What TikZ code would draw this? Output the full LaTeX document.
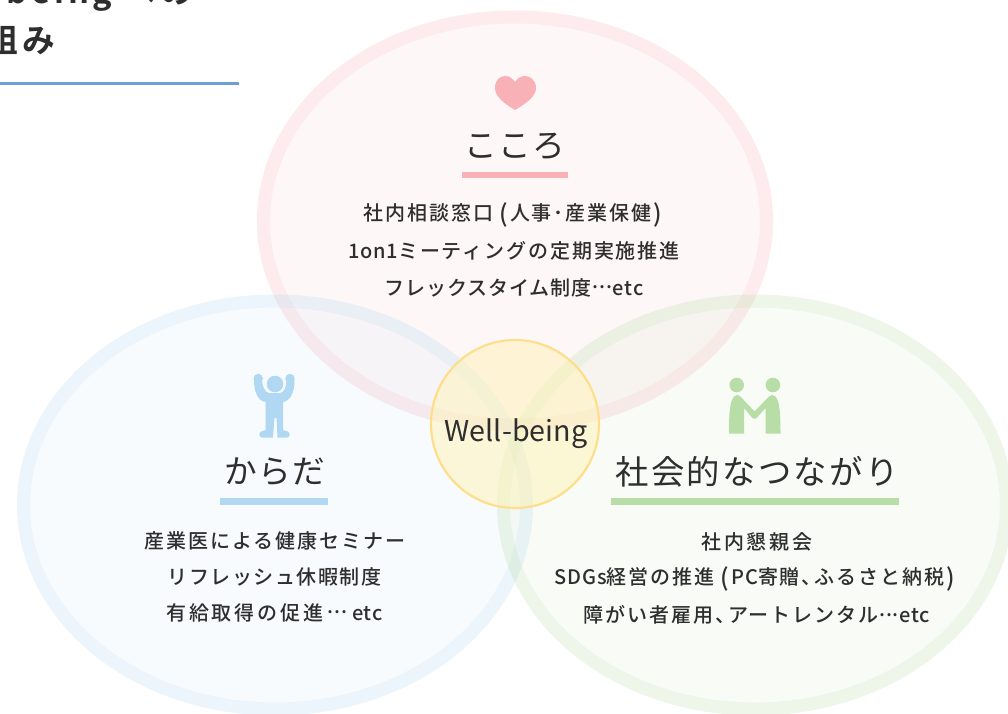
\documentclass[tikz,border=0pt]{standalone}
\usepackage{fontspec}
\setmainfont{Noto Sans CJK JP}
\newfontfamily\bodyf[LetterSpace=9.5]{Noto Sans CJK JP Medium}
\newfontfamily\bodyw[LetterSpace=14]{Noto Sans CJK JP Medium}
\newfontfamily\bodyn[LetterSpace=7.5]{Noto Sans CJK JP Medium}
\newfontfamily\bodyt[LetterSpace=4.5]{Noto Sans CJK JP Medium}
\newfontfamily\latf[LetterSpace=4]{Noto Sans CJK JP Medium}
\newfontfamily\headf[LetterSpace=5]{Noto Sans CJK JP}
\newfontfamily\headw[LetterSpace=7]{Noto Sans CJK JP}
\newfontfamily\wbf{Noto Sans CJK JP}
\newfontfamily\titlef[LetterSpace=12]{Noto Sans CJK JP Bold}
\newcommand{\lp}{\kern.3em\raisebox{-.08em}{\fontsize{18}{18}\selectfont(}\kern.12em}
\newcommand{\rp}{\kern.12em\raisebox{-.08em}{\fontsize{18}{18}\selectfont)}}
\newcommand{\cm}{、\kern-.35em}
\newcommand{\el}{\raisebox{.33em}{\latf\makebox[1.05em]{...}}}
\newcommand{\lat}[1]{{\latf #1}}
\definecolor{ink}{HTML}{2E2E2E}
\definecolor{pinkc}{HTML}{F9B1B8}
\definecolor{bluec}{HTML}{B0D8F2}
\definecolor{greenc}{HTML}{B8DDA6}
\definecolor{yellowc}{HTML}{FFF3B4}
\definecolor{yellowl}{HTML}{FFDE8A}
\definecolor{rulec}{HTML}{6C9FD8}
\tikzset{
  x=0.75pt,y=-0.75pt,
  ringedge/.style={line width=9.75pt,draw opacity=0.25},
  ringfill/.style={fill opacity=0.09},
  bodytext/.style={font=\bodyf\fontsize{15}{15}\selectfont,text=ink,inner sep=0,anchor=center},
  headtext/.style={font=\headf\fontsize{24.5}{24.5}\selectfont,text=ink,inner sep=0,anchor=center},
  titletext/.style={font=\titlef\fontsize{24.5}{24.5}\selectfont,text=ink,inner sep=0},
  bar/.style={inner sep=0,minimum height=4.9pt},
}
\begin{document}
\begin{tikzpicture}
\useasboundingbox (0,0) rectangle (1008,714);
\clip (0,0) rectangle (1008,714);
\fill[white] (0,0) rectangle (1008,714);
% rings
\fill[ringfill,pinkc] (515,221) ellipse [x radius=245,y radius=197.5];
\draw[ringedge,draw=pinkc] (515,221) ellipse [x radius=251.5,y radius=204];
\fill[ringfill,bluec] (275,505) ellipse [x radius=245,y radius=197.5];
\draw[ringedge,draw=bluec] (275,505) ellipse [x radius=251.5,y radius=204];
\fill[ringfill,greenc] (755,505) ellipse [x radius=245,y radius=197.5];
\draw[ringedge,draw=greenc] (755,505) ellipse [x radius=251.5,y radius=204];
% centre
\node[circle,minimum size=126pt,inner sep=0,draw=yellowl,line width=1.6pt,fill=yellowc,fill opacity=0.5,draw opacity=1] (centre) at (515,424) {};
\node[font=\wbf\fontsize{21.5}{21.5}\selectfont,text=ink,inner sep=0] (wb) at (516,433.5) {Well-being};
% title
\node[titletext,anchor=base west] (t1) at (-95,3) {Well-being への};
\node[titletext,anchor=base east] (t2) at (55.5,52) {取り組み};
\fill[rulec] (0,82) rectangle (239,84.5);
% heart
\fill[pinkc] (515,110) .. controls (505,104) and (495,97) .. (495,88) .. controls (495,80) and (500,76) .. (505,76) .. controls (510,76) and (513,79) .. (515,82) .. controls (517,79) and (520,76) .. (525,76) .. controls (530,76) and (536,80) .. (536,88) .. controls (536,97) and (525,104) .. (515,110) -- cycle;
% person
\fill[bluec] (275,384) circle [radius=8.3];
\fill[bluec] (258.2,378.5) circle [radius=4.7];
\fill[bluec] (290,378.5) circle [radius=4.7];
\fill[bluec] (254,380) .. controls (254,392) and (258,401) .. (265.5,402) -- (265.5,430) -- (261,431.5) .. controls (258.5,432.5) and (259,437.5) .. (262,437.5) -- (273,437.5) -- (274.5,418) -- (276.5,418) -- (277.5,437.5) -- (287,437.5) .. controls (290,437.5) and (290.5,432.5) .. (288,431.5) -- (283,430) -- (283,402) .. controls (290,401) and (295,392) .. (294.5,380) -- (286.5,380) .. controls (286.5,386) and (284.5,392.5) .. (280,393) -- (269,393) .. controls (265,392.5) and (262,386) .. (262,380) -- cycle;
% handshake
\fill[greenc] (736.7,385) circle [radius=7.3];
\fill[greenc] (772.9,385) circle [radius=7.3];
\fill[greenc] (729,433.5) .. controls (729,415) and (729.5,402) .. (734,396.5) .. controls (736,394.5) and (738.5,394.5) .. (740,396) -- (754.5,411.5) -- (769.5,396) .. controls (771,394.5) and (773.5,394.5) .. (775.5,396.5) .. controls (780,402) and (780.5,415) .. (780.5,433.5) -- (765.5,433.5) -- (765.5,408) -- (756.5,418) .. controls (755.5,419) and (753.5,419) .. (752.5,418) -- (744,408) -- (744,433.5) -- cycle;
% kokoro
\node[headtext] (h1) at (515,146) {こころ};
\node[bar,fill=pinkc,minimum width=79.5pt] (b1) at (515,175) {};
\node[bodytext] (a1) at (513,215) {社内相談窓口\lp 人事･産業保健\rp};
\node[bodytext] (a2) at (514,251) {\lat{1on1}ミーティングの定期実施推進};
\node[bodytext] (a3) at (514,288) {\bodyt フレックスタイム制度\el\lat{etc}};
% karada
\node[headtext] (h2) at (275,472) {からだ};
\node[bar,fill=bluec,minimum width=81pt] (b2) at (274,501.5) {};
\node[bodytext] (c1) at (275,541) {産業医による健康セミナー};
\node[bodytext] (c2) at (274.5,577) {\bodyn リフレッシュ休暇制度};
\node[bodytext] (c3) at (274.5,613) {\bodyw 有給取得の促進\kern.2em\el\kern.2em\lat{etc}};
% shakai
\node[headtext,font=\headw\fontsize{25}{25}\selectfont] (h3) at (757,472) {社会的なつながり};
\node[bar,fill=greenc,minimum width=216pt] (b3) at (755,501.5) {};
\node[bodytext] (d1) at (757,542) {\bodyw 社内懇親会};
\node[bodytext] (d2) at (755,579) {\lat{SDGs}経営の推進\lp\lat{PC}寄贈\cm ふるさと納税\rp};
\node[bodytext] (d3) at (757,615) {障がい者雇用\cm アートレンタル\el\lat{etc}};
\end{tikzpicture}
\end{document}
